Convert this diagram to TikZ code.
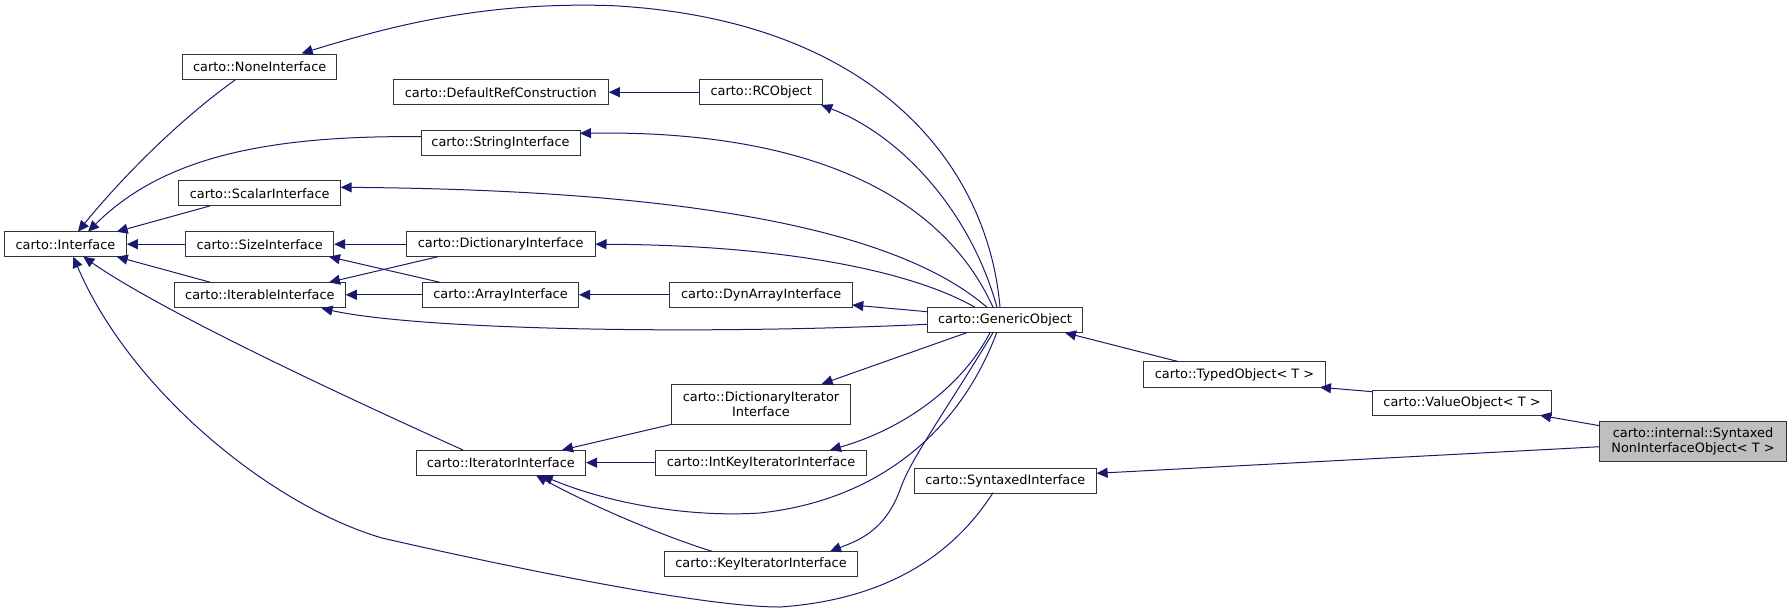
\documentclass[tikz,border=0pt]{standalone}
\usepackage{fontspec}
\setmainfont{DejaVu Sans}
\usetikzlibrary{arrows.meta,calc}
\definecolor{edgeblue}{HTML}{191970}
\definecolor{boxgray}{HTML}{BFBFBF}
\begin{document}
\begin{tikzpicture}[x=1pt,y=-1pt,
  cls/.style={draw=black!80,line width=1pt,fill=white,rectangle,inner sep=0pt,
    minimum height=25pt,font=\fontsize{12.9}{14.7}\selectfont,align=center},
  edge/.style={draw=edgeblue,line width=1pt,-{Triangle[length=11pt,width=10pt]}},
]
\useasboundingbox (0,0) rectangle (1792,614);
\fill[white] (0,0) rectangle (1792,614);

% nodes
\node[cls,minimum width=121.7pt] (iface) at (65.5,244.2) {carto::Interface};
\node[cls,minimum width=154.5pt] (none) at (259.7,66.7) {carto::NoneInterface};
\node[cls,minimum width=215pt] (defref) at (500.8,92.2) {carto::DefaultRefConstruction};
\node[cls,minimum width=123.4pt] (rc) at (761.2,92.2) {carto::RCObject};
\node[cls,minimum width=159pt] (string) at (500.5,142.7) {carto::StringInterface};
\node[cls,minimum width=162pt] (scalar) at (259.7,193.3) {carto::ScalarInterface};
\node[cls,minimum width=148pt] (size) at (259.7,244.2) {carto::SizeInterface};
\node[cls,minimum width=188.6pt] (dict) at (500.7,244.2) {carto::DictionaryInterface};
\node[cls,minimum width=170.7pt] (iterable) at (259.9,294.8) {carto::IterableInterface};
\node[cls,minimum width=156pt] (array) at (500.5,294.8) {carto::ArrayInterface};
\node[cls,minimum width=182.7pt] (dynarray) at (761.2,294.8) {carto::DynArrayInterface};
\node[cls,minimum width=155.2pt,minimum height=25.4pt] (generic) at (1005,320) {carto::GenericObject};
\node[cls,minimum width=179pt,minimum height=40pt] (dictiter) at (761,404) {carto::DictionaryIterator\\Interface};
\node[cls,minimum width=169.6pt] (iterator) at (500.8,462.7) {carto::IteratorInterface};
\node[cls,minimum width=210.7pt] (intkey) at (761,462.7) {carto::IntKeyIteratorInterface};
\node[cls,minimum width=182.6pt] (syntaxed) at (1005.3,480.5) {carto::SyntaxedInterface};
\node[cls,minimum width=193.3pt] (keyiter) at (761,564) {carto::KeyIteratorInterface};
\node[cls,minimum width=182pt,minimum height=25.6pt] (typed) at (1234.5,374.5) {carto::TypedObject< T >};
\node[cls,minimum width=178.6pt] (value) at (1462,402.7) {carto::ValueObject< T >};
\node[cls,minimum width=186.6pt,minimum height=40.4pt,fill=boxgray] (sni) at (1693,441.5) {carto::internal::Syntaxed\\NonInterfaceObject< T >};

% edges into carto::Interface
\draw[edge] ($(none)+(-23.7,12.6)$) .. controls (168,128) and (110,192) .. ($(iface)+(12.5,-12.5)$);
\draw[edge] ($(string)+(-79.5,-6)$) .. controls (260,135) and (160,160) .. ($(iface)+(22.5,-12.5)$);
\draw[edge] ($(scalar)+(-50,12.7)$) -- ($(iface)+(51.2,-12.5)$);
\draw[edge] (size.west) -- (iface.east);
\draw[edge] ($(iterable)+(-49.4,-12.5)$) -- ($(iface)+(51.2,12.5)$);
\draw[edge] ($(iterator)+(-37.8,-12.7)$) .. controls (330,390) and (160,310) .. ($(iface)+(17.8,12.5)$);
\draw[edge] ($(syntaxed)+(-12.3,12.2)$) .. controls (950,560) and (880,600) .. (780,607)
  .. controls (700,607) and (500,565) .. (382,538)
  .. controls (270,505) and (130,390) .. ($(iface)+(7.8,12.5)$);

% other left-side edges
\draw[edge] (rc.west) -- (defref.east);
\draw[edge] (dict.west) -- (size.east);
\draw[edge] ($(dict)+(-62.7,12.5)$) -- ($(iterable)+(69.1,-12.5)$);
\draw[edge] ($(array)+(-60.5,-12.5)$) -- ($(size)+(69.3,12.5)$);
\draw[edge] (array.west) -- (iterable.east);
\draw[edge] (dynarray.west) -- (array.east);

% edges from carto::GenericObject
\draw[edge] ($(generic)+(-5,-12.7)$) .. controls (988,165) and (875,20) .. (613,5.7)
  .. controls (480,1) and (385,28) .. ($(none)+(42,-13.4)$);
\draw[edge] ($(generic)+(-8,-12.7)$) .. controls (970,210) and (900,135) .. ($(rc)+(60,12.8)$);
\draw[edge] ($(generic)+(-12,-12.7)$) .. controls (940,190) and (800,130) .. ($(string)+(79.5,-9.4)$);
\draw[edge] ($(generic)+(-18,-12.7)$) .. controls (900,232) and (700,190) .. ($(scalar)+(81,-6)$);
\draw[edge] ($(generic)+(-30,-12.7)$) .. controls (910,270) and (780,245) .. (dict.east);
\draw[edge] ($(generic)+(-77.7,-8.3)$) -- ($(dynarray)+(91.1,10.2)$);
\draw[edge] ($(generic)+(-77.7,4.3)$) .. controls (700,335) and (420,330) .. ($(iterable)+(61.6,13.5)$);
\draw[edge] ($(generic)+(-38.3,12.7)$) -- ($(dictiter)+(60.7,-20)$);
\draw[edge] ($(generic)+(-15,12.7)$) .. controls (960,390) and (900,430) .. ($(intkey)+(69,-12.7)$);
\draw[edge] ($(generic)+(-12,12.7)$) .. controls (940,420) and (910,460) .. (900,490)
  .. controls (885,530) and (860,540) .. ($(keyiter)+(69,-12.7)$);
\draw[edge] ($(generic)+(-8.3,12.7)$) .. controls (960,430) and (880,500) .. (760,513)
  .. controls (680,518) and (600,500) .. ($(iterator)+(41,12.6)$);

% iterator family
\draw[edge] (dictiter.south west) -- ($(iterator)+(61.2,-12.7)$);
\draw[edge] (intkey.west) -- (iterator.east);
\draw[edge] ($(keyiter)+(-49,-12.7)$) .. controls (660,535) and (590,505) .. ($(iterator)+(35.2,12.6)$);

% right side
\draw[edge] ($(typed)+(-55.7,-12.8)$) -- ($(generic)+(60,12.7)$);
\draw[edge] ($(value)+(-89.3,-11)$) -- ($(typed)+(85.5,12.8)$);
\draw[edge] ($(sni)+(-93.3,-15.8)$) -- ($(value)+(78,12.6)$);
\draw[edge] ($(sni)+(-93.3,5.2)$) -- ($(syntaxed)+(91.3,-7.2)$);
\end{tikzpicture}
\end{document}
